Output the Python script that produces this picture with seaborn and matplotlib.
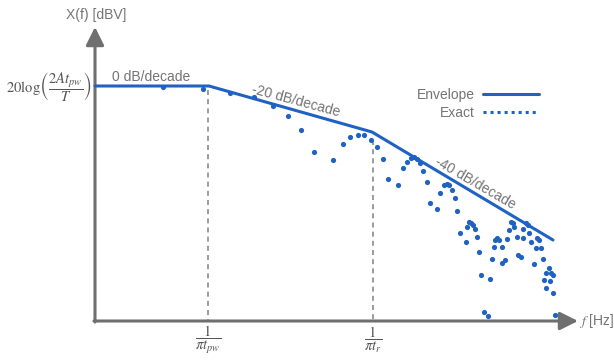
import matplotlib
matplotlib.use("Agg")
import matplotlib.pyplot as plt
import seaborn as sns
import pandas as pd
from matplotlib.lines import Line2D

# ---- data (positions, in image units; y grows downward) ----
env_x = [95, 209, 372, 553]
env_y = [86, 86, 132, 240]

exact_x = [163, 203, 230, 254, 273, 288, 301, 314, 333, 343, 350, 358, 364, 371, 377,
           383, 388, 398, 403, 407, 411, 414, 417, 420, 423, 427, 430, 437, 440, 444,
           447, 449, 452, 455, 457, 460, 466, 469, 471, 473, 467, 475, 477, 479, 481,
           490, 484, 488, 492, 494, 495, 497, 499, 502, 502, 505, 507, 509, 511, 513,
           514, 517, 518, 521, 523, 523, 526, 528, 529, 531, 534, 536, 537, 539, 541,
           543, 546, 549, 551, 553, 544, 550, 546, 553, 555]
exact_y = [87, 89, 93, 97, 106, 116, 130, 152, 160, 144, 137, 135, 135, 140, 147,
           159, 179, 185, 168, 162, 158, 157, 159, 163, 171, 182, 203, 209, 193, 185,
           184, 185, 190, 198, 211, 233, 242, 222, 223, 225, 227, 229, 237, 252, 275,
           279, 312, 316, 259, 247, 240, 238, 240, 247, 263, 260, 239, 230, 222, 223,
           227, 237, 255, 257, 238, 229, 223, 225, 233, 242, 264, 248, 238, 240, 248,
           259, 273, 268, 273, 275, 280, 281, 288, 293, 315]

corner_x = [208, 373]
corner_top = [90, 140]
tick_labels = [r"$\dfrac{1}{\pi t_{pw}}$", r"$\dfrac{1}{\pi t_{r}}$"]
slope_labels = ["0 dB/decade", "-20 dB/decade", "-40 dB/decade"]
legend_labels = ["Envelope", "Exact"]

BLUE = "#1f62c4"
GREY = "#6f6f6f"
TEXT = "#747474"

sns.set_theme(style="white")
plt.rcParams["font.family"] = ["Liberation Sans", "DejaVu Sans"]
plt.rcParams["mathtext.fontset"] = "stix"

fig = plt.figure(figsize=(6.14, 3.61), dpi=100)
ax = fig.add_axes([0, 0, 1, 1])

# axes arrows
ax.annotate("", xy=(95, 27), xytext=(95, 322),
            arrowprops=dict(arrowstyle="-|>,head_length=1.1,head_width=0.55",
                            color=GREY, lw=2.2, mutation_scale=10, shrinkA=0, shrinkB=0))
ax.annotate("", xy=(578, 321), xytext=(94, 321),
            arrowprops=dict(arrowstyle="-|>,head_length=1.1,head_width=0.55",
                            color=GREY, lw=2.2, mutation_scale=10, shrinkA=0, shrinkB=0))

# dashed corner markers
for cx, ct in zip(corner_x, corner_top):
    ax.plot([cx, cx], [ct, 320], color="#8a8a8a", lw=1.2, ls=(0, (3, 2.5)), zorder=1)

# envelope and exact
env = pd.DataFrame({"x": env_x, "y": env_y})
sns.lineplot(data=env, x="x", y="y", sort=False, color=BLUE, lw=2.2, ax=ax, zorder=3)
exact = pd.DataFrame({"x": exact_x, "y": exact_y})
sns.scatterplot(data=exact, x="x", y="y", color=BLUE, s=14, linewidth=0, ax=ax, zorder=4)
ax.set_xlim(0, 614)
ax.set_ylim(361, 0)
ax.axis("off")

# text labels
ax.text(96, 15, "X(f) [dBV]", ha="center", va="center", fontsize=10, color=TEXT)
ax.text(579, 321, r"$f$ [Hz]", ha="left", va="center", fontsize=10, color=TEXT)
ax.text(49, 87, r"$\mathrm{20log}\left(\dfrac{2At_{pw}}{T}\right)$", ha="center",
        va="center", fontsize=10.5, color="#555555")
ax.text(151, 77, slope_labels[0], ha="center", va="center", fontsize=10, color=TEXT)
ax.text(296, 101, slope_labels[1], ha="center", va="center", fontsize=10, color=TEXT,
        rotation=-15)
ax.text(475, 183, slope_labels[2], ha="center", va="center", fontsize=10, color=TEXT,
        rotation=-30)
for cx, lab in zip(corner_x, tick_labels):
    ax.text(cx, 340, lab, ha="center", va="center", fontsize=10.5, color="#555555")

# legend
handles = [Line2D([], [], color=BLUE, lw=2.2),
           Line2D([], [], color=BLUE, lw=2.2, ls=(0, (1, 1.3)))]
leg = ax.legend(handles, legend_labels, markerfirst=False, frameon=False,
                loc="upper left", bbox_to_anchor=(417 / 614, 1 - 88 / 361),
                fontsize=10, handlelength=4.0, handletextpad=0.6,
                labelspacing=0.3, borderpad=0, borderaxespad=0)
for t in leg.get_texts():
    t.set_color(TEXT)

fig.savefig("out.png", dpi=100)
